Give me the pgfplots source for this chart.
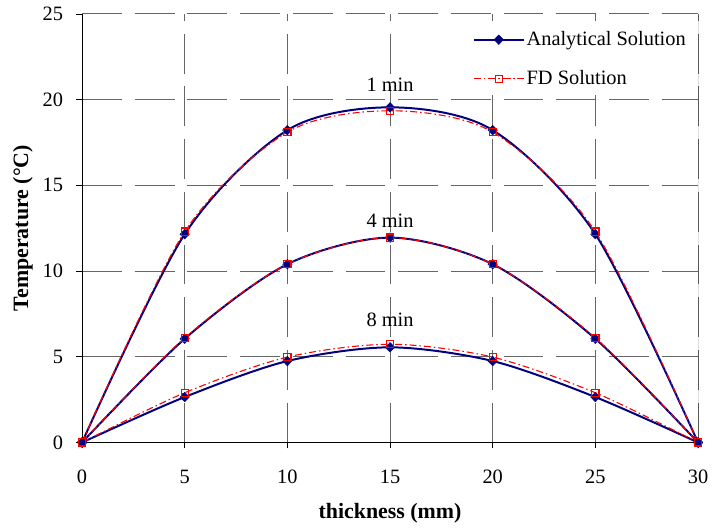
\documentclass[border=0pt]{standalone}
\usepackage{fontspec}
\setmainfont{Liberation Serif}
\usepackage{pgfplots}
\pgfplotsset{compat=1.18}

\definecolor{anavy}{HTML}{000080}
\definecolor{fdred}{HTML}{FF0000}

\begin{document}
\fontsize{20.5}{24}\selectfont
\begin{tikzpicture}
\begin{axis}[
  scale only axis, width=619.5pt, height=431pt,
  xmin=0, xmax=30, ymin=0, ymax=25,
  xtick={0,5,...,30}, ytick={0,5,...,25},
  axis x line=bottom, axis y line=left,
  axis line style={-, black, line width=0.8pt},
  tick align=outside, major tick length=6pt,
  tick style={black, line width=0.8pt},
  /pgf/number format/assume math mode=true,
  tick label style={font=\fontsize{20.5}{24}\selectfont},
  xticklabel style={yshift=-15pt},
  yticklabel style={xshift=-6pt},
  grid=major,
  grid style={dash pattern=on 40pt off 13pt, black!60, line width=1pt},
  xlabel={\textbf{thickness (mm)}},
  ylabel={\textbf{Temperature (°C)}},
  label style={font=\fontsize{22}{26}\selectfont},
  xlabel style={at={(axis description cs:0.5,-0.1647)}, anchor=center},
  ylabel style={at={(axis description cs:-0.096,0.5)}, anchor=center},
  legend style={at={(rel axis cs:0.99,0.979)}, anchor=north east,
                fill=white, draw=none, font=\fontsize{20.5}{24}\selectfont,
                row sep=18pt, inner xsep=4pt, inner ysep=6pt},
  legend cell align=left,
  legend image code/.code={
    \draw[mark repeat=2, mark phase=2] plot coordinates {(0pt,0pt) (25pt,0pt) (50pt,0pt)};},
]
% analytical solution
\addplot[smooth, color=anavy, line width=2pt, mark=diamond*, mark size=4.8pt,
         mark options={solid, xscale=1.3, fill=anavy, draw=anavy, line width=0.5pt}]
  coordinates {(0,0) (5,12.15) (10,18.22) (15,19.55) (20,18.22) (25,12.15) (30,0)};
\addlegendentry{Analytical Solution}
% FD solution
\addplot[smooth, color=fdred, line width=1.1pt, dash pattern=on 7pt off 3pt on 1.5pt off 3pt,
         mark=square, mark size=3.6pt, mark options={solid, draw=fdred, fill=none, line width=1.2pt}]
  coordinates {(0,0) (5,12.3) (10,18.1) (15,19.35) (20,18.1) (25,12.3) (30,0)};
\addlegendentry{FD Solution}

\addplot[forget plot, smooth, color=anavy, line width=2pt, mark=diamond*, mark size=4.8pt,
         mark options={solid, xscale=1.3, fill=anavy, draw=anavy, line width=0.5pt}]
  coordinates {(0,0) (5,6.05) (10,10.4) (15,11.95) (20,10.4) (25,6.05) (30,0)};
\addplot[forget plot, smooth, color=anavy, line width=2pt, mark=diamond*, mark size=4.8pt,
         mark options={solid, xscale=1.3, fill=anavy, draw=anavy, line width=0.5pt}]
  coordinates {(0,0) (5,2.65) (10,4.75) (15,5.55) (20,4.75) (25,2.65) (30,0)};
\addplot[forget plot, smooth, color=fdred, line width=1.1pt, dash pattern=on 7pt off 3pt on 1.5pt off 3pt,
         mark=square, mark size=3.6pt, mark options={solid, draw=fdred, fill=none, line width=1.2pt}]
  coordinates {(0,0) (5,6.1) (10,10.4) (15,11.95) (20,10.4) (25,6.1) (30,0)};
\addplot[forget plot, smooth, color=fdred, line width=1.1pt, dash pattern=on 7pt off 3pt on 1.5pt off 3pt,
         mark=square, mark size=3.6pt, mark options={solid, draw=fdred, fill=none, line width=1.2pt}]
  coordinates {(0,0) (5,2.9) (10,4.98) (15,5.73) (20,4.98) (25,2.9) (30,0)};

\node[font=\fontsize{20.5}{24}\selectfont] at (axis cs:15,20.87) {1 min};
\node[font=\fontsize{20.5}{24}\selectfont] at (axis cs:15,12.92) {4 min};
\node[font=\fontsize{20.5}{24}\selectfont] at (axis cs:15,7.16) {8 min};
\draw[black, line width=0.8pt] (rel axis cs:1,0) -- (rel axis cs:1,1);
\end{axis}
\path (current axis.south west) ++(-82.5pt,-86pt) rectangle ([shift={(13pt,14pt)}]current axis.north east);
\end{tikzpicture}
\end{document}
